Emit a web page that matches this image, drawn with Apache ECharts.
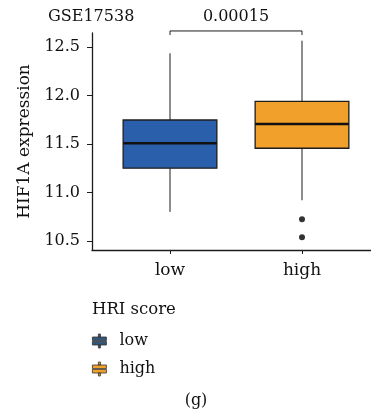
<!DOCTYPE html>
<html>
<head>
<meta charset="utf-8">
<script src="https://cdn.jsdelivr.net/npm/echarts@6/dist/echarts.min.js"></script>
<style>
html,body{margin:0;padding:0;background:#fff;}
#c{width:371px;height:417px;}
</style>
</head>
<body>
<div id="c"></div>
<script>
// ---- data ----
const categories = ['low', 'high'];
// [min, Q1, median, Q3, max]
const lowBox = [10.80, 11.25, 11.507, 11.747, 12.435];
const highBox = [10.92, 11.456, 11.706, 11.94, 12.565];
const highOutliers = [10.724, 10.538];
const yTicks = [10.5, 11.0, 11.5, 12.0, 12.5];
const pValue = '0.00015';
const datasetName = 'GSE17538';
const legendTitle = 'HRI score';
const panelLabel = '(g)';
const bracketLevels = [12.624, 12.665];

const colors = {low: '#2a60ab', high: '#f0a02b'};
const FONT = 'DejaVu Serif';

const chart = echarts.init(document.getElementById('c'), null, {renderer: 'canvas'});

function renderBox(params, api) {
  const x = api.value(0);
  const pMin = api.coord([x, api.value(1)]);
  const pQ1 = api.coord([x, api.value(2)]);
  const pMed = api.coord([x, api.value(3)]);
  const pQ3 = api.coord([x, api.value(4)]);
  const pMax = api.coord([x, api.value(5)]);
  const w = api.size([1, 0])[0] * 0.71;
  const cx = pMed[0];
  const stroke = '#1c1c1c';
  return {
    type: 'group',
    children: [
      {type: 'line', shape: {x1: cx, y1: pMax[1], x2: cx, y2: pQ3[1]}, style: {stroke, lineWidth: 1}},
      {type: 'line', shape: {x1: cx, y1: pQ1[1], x2: cx, y2: pMin[1]}, style: {stroke, lineWidth: 1}},
      {type: 'rect', shape: {x: cx - w / 2, y: pQ3[1], width: w, height: pQ1[1] - pQ3[1]},
        style: {fill: api.visual('color'), stroke, lineWidth: 1.3}},
      {type: 'line', shape: {x1: cx - w / 2, y1: pMed[1], x2: cx + w / 2, y2: pMed[1]}, style: {stroke: '#111', lineWidth: 2.6}}
    ]
  };
}

const legendIcon = 'path://M6,0h2v3h-2z M0,3h14v3.6h-14z M0,7.4h14v3.6h-14z M6,11h2v3h-2z';

const option = {
  animation: false,
  backgroundColor: '#fff',
  title: [
    {text: datasetName, left: 48, top: 9, padding: 0, textStyle: {fontFamily: FONT, fontSize: 16, fontWeight: 'normal', color: '#111'}},
    {text: pValue, left: 236, top: 9, padding: 0, textAlign: 'center', textStyle: {fontFamily: FONT, fontSize: 16, fontWeight: 'normal', color: '#111'}},
    {text: legendTitle, left: 92, top: 301, padding: 0, textStyle: {fontFamily: FONT, fontSize: 16.5, fontWeight: 'normal', color: '#111'}},
    {text: panelLabel, left: 196, top: 393, padding: 0, textAlign: 'center', textStyle: {fontFamily: FONT, fontSize: 16, fontWeight: 'normal', color: '#111'}}
  ],
  legend: {
    orient: 'vertical',
    left: 92,
    top: 333,
    padding: 0,
    itemWidth: 14,
    itemHeight: 14,
    itemGap: 12,
    textStyle: {fontFamily: FONT, fontSize: 16, color: '#111', padding: [0, 0, 0, 8]},
    data: [
      {name: 'low', icon: legendIcon, itemStyle: {color: '#34557a', borderColor: '#333', borderWidth: 0.8}},
      {name: 'high', icon: legendIcon, itemStyle: {color: colors.high, borderColor: '#333', borderWidth: 0.8}}
    ]
  },
  grid: [
    {left: 104, right: 3, top: 33, bottom: 167},
    {left: 92, right: 0, top: 33, bottom: 167}
  ],
  xAxis: [
    {
      type: 'category', gridIndex: 0, data: categories, boundaryGap: true,
      axisLine: {show: false},
      axisTick: {show: true, alignWithLabel: true, length: 4, lineStyle: {color: '#1c1c1c', width: 1}},
      axisLabel: {fontFamily: FONT, fontSize: 17, color: '#111', margin: 12}
    },
    {
      type: 'value', gridIndex: 1, min: 0, max: 1,
      axisLine: {show: true, onZero: false, lineStyle: {color: '#1c1c1c', width: 1.3}},
      axisTick: {show: false}, axisLabel: {show: false}, splitLine: {show: false}
    }
  ],
  yAxis: [
    {
      type: 'value', gridIndex: 0, min: 10.407, max: 12.644, offset: 12,
      name: 'HIF1A expression', nameLocation: 'middle', nameGap: 59,
      nameTextStyle: {fontFamily: FONT, fontSize: 17, color: '#111'},
      axisLine: {show: true, lineStyle: {color: '#1c1c1c', width: 1.3}},
      axisTick: {show: true, length: 5, customValues: yTicks, lineStyle: {color: '#1c1c1c', width: 1}},
      axisLabel: {fontFamily: FONT, fontSize: 16, color: '#111', margin: 12, customValues: yTicks,
        formatter: v => v.toFixed(1)},
      splitLine: {show: false}
    },
    {
      type: 'value', gridIndex: 1, show: false, min: 0, max: 1
    }
  ],
  series: [
    {
      name: 'low', type: 'custom', xAxisIndex: 0, yAxisIndex: 0,
      itemStyle: {color: colors.low},
      encode: {x: 0, y: [1, 2, 3, 4, 5]},
      renderItem: renderBox,
      data: [[0].concat(lowBox)]
    },
    {
      name: 'high', type: 'custom', xAxisIndex: 0, yAxisIndex: 0,
      itemStyle: {color: colors.high},
      encode: {x: 0, y: [1, 2, 3, 4, 5]},
      renderItem: renderBox,
      data: [[1].concat(highBox)]
    },
    {
      name: 'outliers', type: 'scatter', xAxisIndex: 0, yAxisIndex: 0,
      symbolSize: 6, itemStyle: {color: '#000'}, silent: true,
      data: highOutliers.map(v => ['high', v])
    },
    {
      name: 'bracket', type: 'line', xAxisIndex: 0, yAxisIndex: 0,
      symbol: 'none', clip: false, silent: true,
      lineStyle: {color: '#1c1c1c', width: 1},
      data: [['low', bracketLevels[0]], ['low', bracketLevels[1]], ['high', bracketLevels[1]], ['high', bracketLevels[0]]]
    }
  ]
};
chart.setOption(option);
</script>
</body>
</html>
